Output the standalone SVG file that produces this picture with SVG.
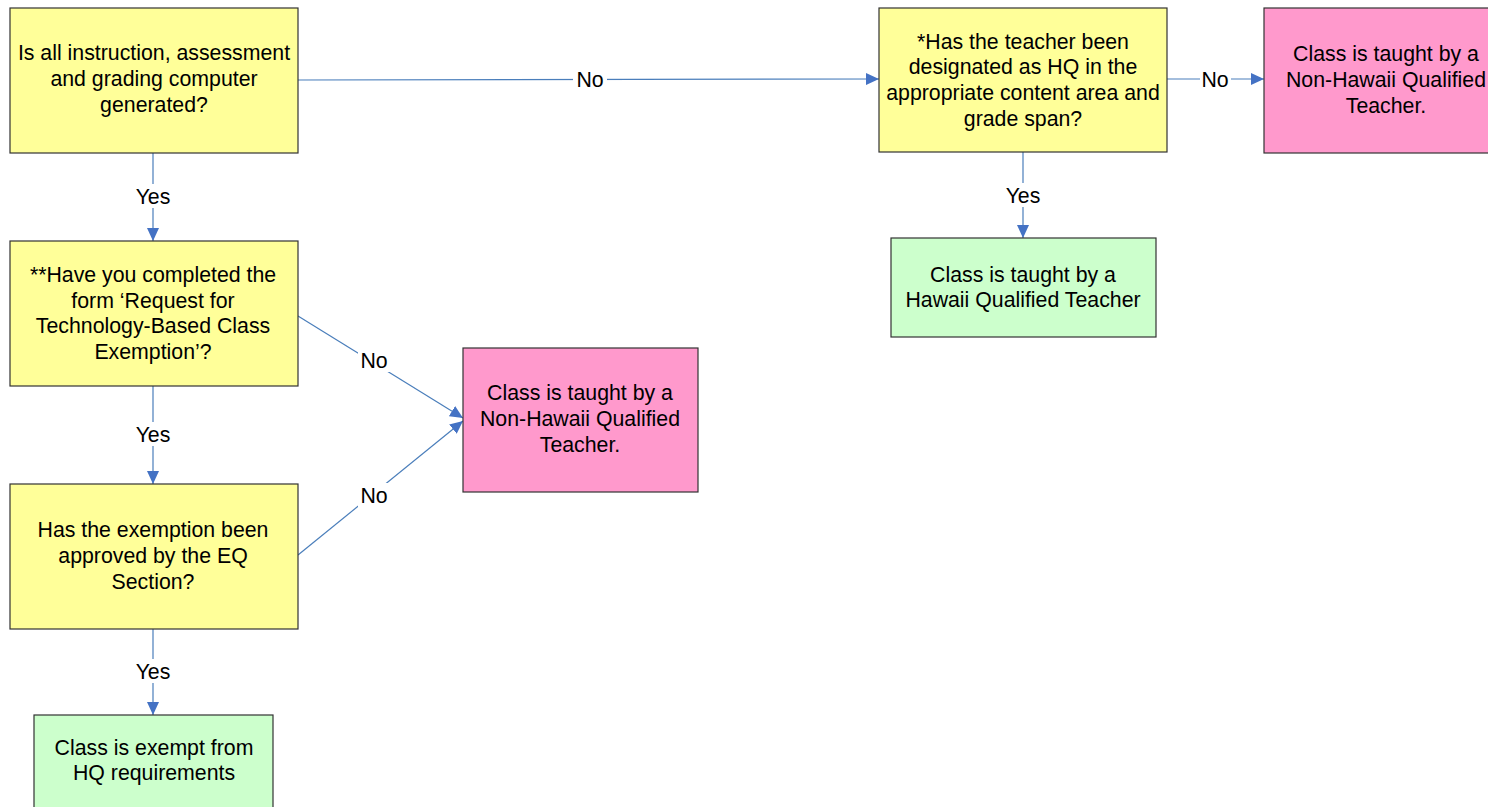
<svg xmlns="http://www.w3.org/2000/svg" width="1488" height="807" viewBox="0 0 1488 807">
<style>
.box{stroke:#333;stroke-width:1.2}
.q{fill:#FFFF99}
.red{fill:#FF99CC}
.ok{fill:#CCFFCC}
text{font-family:"Liberation Sans",Arial,sans-serif;font-size:21.3px;fill:#000;text-anchor:middle}
.c{stroke:#4A7EBB;stroke-width:1.2;fill:none;marker-end:url(#ah)}
.lb{fill:#fff}
</style>
<defs>
<marker id="ah" viewBox="0 0 13 12" refX="13" refY="6" markerWidth="13" markerHeight="12" markerUnits="userSpaceOnUse" orient="auto">
<path d="M0,0 L13,6 L0,12 z" fill="#4472C4"/>
</marker>
</defs>
<rect width="1488" height="807" fill="#fff"/>
<g id="connectors">
<path class="c" d="M298,80 L879,79"/>
<rect class="lb" x="573" y="67" width="34" height="24"/><text x="590" y="87">No</text>
<path class="c" d="M153,153 L153,241"/>
<rect class="lb" x="133" y="184" width="40" height="24"/><text x="153" y="204">Yes</text>
<path class="c" d="M153,386 L153,484"/>
<rect class="lb" x="133" y="422" width="40" height="24"/><text x="153" y="442">Yes</text>
<path class="c" d="M153,629 L153,715"/>
<rect class="lb" x="133" y="659" width="40" height="24"/><text x="153" y="679">Yes</text>
<path class="c" d="M298,316 L463,418"/>
<rect class="lb" x="358" y="348" width="32" height="24"/><text x="374" y="368">No</text>
<path class="c" d="M298,555 L463,421"/>
<rect class="lb" x="358" y="483" width="32" height="24"/><text x="374" y="503">No</text>
<path class="c" d="M1167,79 L1264,79"/>
<rect class="lb" x="1200" y="67" width="31" height="24"/><text x="1215" y="87">No</text>
<path class="c" d="M1023,152 L1023,238"/>
<rect class="lb" x="1003" y="183" width="40" height="24"/><text x="1023" y="203">Yes</text>
</g>
<g id="q1">
<rect class="box q" x="10" y="8" width="288" height="145"/>
<text x="154" y="60">Is all instruction, assessment</text>
<text x="154" y="86">and grading computer</text>
<text x="154" y="112">generated?</text>
</g>
<g id="q2">
<rect class="box q" x="879" y="8" width="288" height="144"/>
<text x="1023" y="49">*Has the teacher been</text>
<text x="1023" y="74">designated as HQ in the</text>
<text x="1023" y="100">appropriate content area and</text>
<text x="1023" y="126">grade span?</text>
</g>
<g id="nhq1">
<rect class="box red" x="1264" y="8" width="244" height="145"/>
<text x="1386" y="61">Class is taught by a</text>
<text x="1386" y="87">Non-Hawaii Qualified</text>
<text x="1386" y="113">Teacher.</text>
</g>
<g id="hq">
<rect class="box ok" x="891" y="238" width="265" height="99"/>
<text x="1023" y="282">Class is taught by a</text>
<text x="1023" y="307">Hawaii Qualified Teacher</text>
</g>
<g id="q3">
<rect class="box q" x="10" y="241" width="288" height="145"/>
<text x="153" y="282">**Have you completed the</text>
<text x="153" y="308">form ‘Request for</text>
<text x="153" y="333">Technology-Based Class</text>
<text x="153" y="359">Exemption’?</text>
</g>
<g id="q4">
<rect class="box q" x="10" y="484" width="288" height="145"/>
<text x="153" y="537">Has the exemption been</text>
<text x="153" y="563">approved by the EQ</text>
<text x="153" y="589">Section?</text>
</g>
<g id="nhq2">
<rect class="box red" x="463" y="348" width="235" height="144"/>
<text x="580" y="400">Class is taught by a</text>
<text x="580" y="426">Non-Hawaii Qualified</text>
<text x="580" y="452">Teacher.</text>
</g>
<g id="exempt">
<rect class="box ok" x="34" y="715" width="239" height="100"/>
<text x="154" y="755">Class is exempt from</text>
<text x="154" y="780">HQ requirements</text>
</g>
</svg>
